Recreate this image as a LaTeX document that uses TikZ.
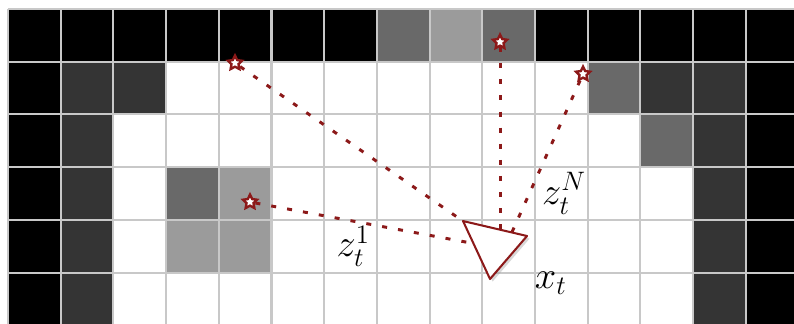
\documentclass[tikz,border=0pt]{standalone}
\usepackage{tikz}
\usetikzlibrary{shapes.geometric,shadows}
\definecolor{myred}{RGB}{140,25,25}
\definecolor{mydark}{RGB}{52,52,52}
\definecolor{mymid}{RGB}{105,105,105}
\definecolor{mylight}{RGB}{155,155,155}
\definecolor{mygrid}{RGB}{200,200,200}

\begin{document}
\begin{tikzpicture}[
  landmark/.style={star, star points=5, star point ratio=2.0, draw=myred,
                   fill=white, line width=1.3pt, minimum size=0.28cm,
                   inner sep=0pt},
  ray/.style={myred, line width=1.6pt, dash pattern=on 2.7pt off 6pt},
  robot/.style={draw=myred, fill=white, line width=1.1pt, line join=round,
                drop shadow={opacity=0.3, shadow xshift=1.4pt,
                             shadow yshift=-1.4pt}},
  lab/.style={font=\fontsize{20}{24}\selectfont, inner sep=1pt}
]
  \useasboundingbox (-0.152,0.171) rectangle (14.914,-5.958);
  \clip (-0.152,0.171) rectangle (14.914,-5.958);
  \fill[white] (-0.152,0.171) rectangle (14.914,-5.958);

  % occupancy cells
  \foreach \i/\j in {0/0,1/0,2/0,3/0,4/0,5/0,6/0,10/0,11/0,12/0,13/0,14/0,
                     0/1,0/2,0/3,0/4,0/5,14/1,14/2,14/3,14/4,14/5}
    \fill[black] (\i,-\j) rectangle ++(1,-1);
  \foreach \i/\j in {1/1,2/1,12/1,13/1,1/2,13/2,1/3,13/3,1/4,13/4,1/5,13/5}
    \fill[mydark] (\i,-\j) rectangle ++(1,-1);
  \foreach \i/\j in {7/0,9/0,11/1,12/2,3/3}
    \fill[mymid] (\i,-\j) rectangle ++(1,-1);
  \foreach \i/\j in {8/0,4/3,3/4,4/4}
    \fill[mylight] (\i,-\j) rectangle ++(1,-1);
  \draw[mygrid, line width=1.1pt] (0,0) grid (15,-6);

  \node[landmark](l1) at (4.307,-1.025){};
  \node[landmark](l2) at (9.336,-0.626){};
  \node[landmark](l3) at (10.911,-1.233){};
  \node[landmark](l4) at (4.592,-3.662){};

  \coordinate (s1) at (8.767,-4.118);
  \coordinate (s2) at (9.336,-4.231);
  \coordinate (s3) at (9.564,-4.231);
  \coordinate (s4) at (8.786,-4.440);

  \draw[ray](l1)--(s1);
  \draw[ray](l2)--(s2);
  \draw[ray](l3)--(s3);
  \draw[ray](l4)--(s4);

  % robot pose
  \coordinate (xa) at (8.634,-4.023);
  \coordinate (xb) at (9.848,-4.307);
  \coordinate (xc) at (9.146,-5.123);
  \filldraw[robot](xa)--(xb)--(xc)--cycle;

  \node[lab](z1) at (6.55,-4.50){$z_t^1$};
  \node[lab](zN) at (10.55,-3.50){$z_t^N$};
  \node[lab](xt) at (10.30,-5.20){$x_t$};
\end{tikzpicture}
\end{document}
